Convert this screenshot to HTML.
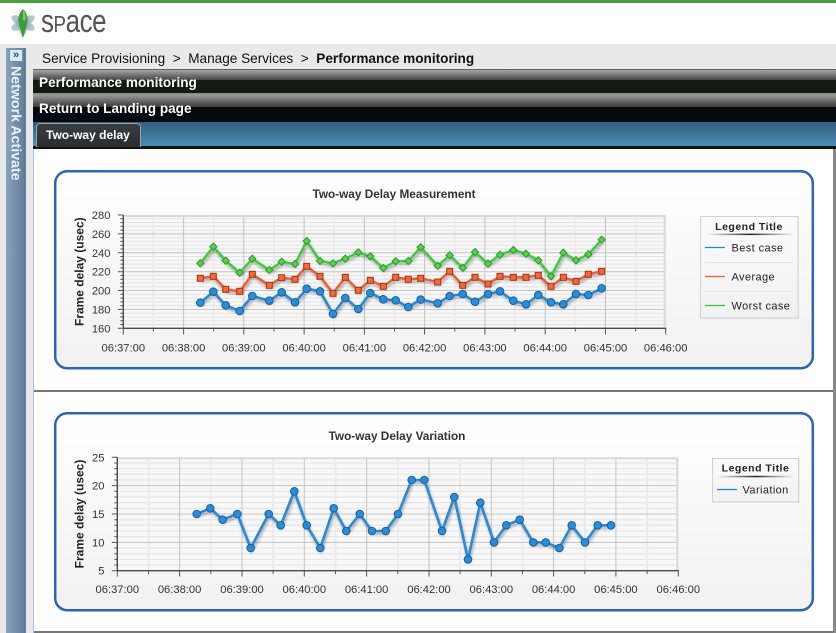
<!DOCTYPE html>
<html><head><meta charset="utf-8"><style>
*{margin:0;padding:0;box-sizing:border-box}
body{width:836px;height:633px;overflow:hidden;background:#e9e9e9;font-family:"Liberation Sans",Arial,sans-serif}
.a{position:absolute}
#root{position:relative;width:836px;height:633px;overflow:hidden;background:#e9e9e9}
.t{position:absolute;white-space:nowrap;line-height:1}
</style></head><body><div id="root">
<div class="a" style="left:0;top:0;width:836px;height:3px;background:#4c9f3f"></div>
<div class="a" style="left:0;top:3px;width:836px;height:41px;background:#fff"></div>
<svg class="a" style="left:6px;top:6px" width="34" height="34" viewBox="0 0 34 34">
<g fill="#a9bcc3" opacity="0.85">
<ellipse cx="17" cy="17" rx="13" ry="5" transform="rotate(30 17 17)"/>
<ellipse cx="17" cy="17" rx="13" ry="5" transform="rotate(-30 17 17)"/>
<ellipse cx="17" cy="17" rx="13" ry="5" transform="rotate(90 17 17)" opacity="0.6"/>
</g>
<g fill="#8aa3ad" opacity="0.5"><circle cx="17" cy="17" r="7"/></g>
<path d="M17 3 C21 7 22.5 12 21 18 C20 23 18.5 28 17 32 C15.5 28 14 23 13 18 C11.5 12 13 7 17 3Z" fill="#3f9c3c"/>
<path d="M17 4 C19.5 7 20 11 19 15 L17 14Z" fill="#9bd08c" opacity="0.8"/>
</svg>
<div class="t" style="left:41px;top:4.6px;font-size:32px;color:#555;transform:scaleX(0.81);transform-origin:0 0;letter-spacing:-0.5px">s<span style="font-size:23px">P</span>ace</div>

<div class="t" style="left:42px;top:52.4px;font-size:13.6px;color:#111">Service Provisioning &nbsp;&gt;&nbsp; Manage Services &nbsp;&gt;&nbsp; <b>Performance monitoring</b></div>

<div class="a" style="left:33px;top:69px;width:803px;height:24px;background:linear-gradient(#606060 0,#606060 1px,#a6a6a6 1px,#454545 11px,#161816 11px,#161816 24px)"></div>
<div class="a" style="left:33px;top:93px;width:803px;height:29px;background:linear-gradient(#8c8c8c 0,#8c8c8c 1.5px,#9e9e9e 1.5px,#383838 14px,#050a10 14px,#050a10 29px)"></div>
<div class="t" style="left:39px;top:75.8px;font-size:13.6px;color:#fff;font-weight:bold">Performance monitoring</div>
<div class="t" style="left:39px;top:101.8px;font-size:13.6px;color:#fff;font-weight:bold">Return to Landing page</div>
<div class="a" style="left:33px;top:122px;width:803px;height:24px;background:linear-gradient(#325d7e,#4b8cb4)"></div>
<div class="a" style="left:33px;top:146px;width:803px;height:3px;background:#121212"></div>
<div class="a" style="left:36px;top:123px;width:105px;height:24px;background:linear-gradient(#3a3c3e,#2b2d2f);border:1px solid #9aa4ad;border-bottom:none;border-radius:4px 4px 0 0"></div>
<div class="t" style="left:46px;top:129.1px;font-size:12px;color:#fff;font-weight:bold">Two-way delay</div>

<div class="a" style="left:33px;top:149px;width:800px;height:484px;background:#fff;border-left:1px solid #a9c1de"></div>
<div class="a" style="left:833px;top:149px;width:3px;height:484px;background:#8a8a8a"></div>
<div class="a" style="left:34px;top:390px;width:799px;height:2px;background:#777"></div>
<div class="a" style="left:34px;top:631px;width:799px;height:2px;background:#777"></div>

<div class="a" style="left:6px;top:48px;width:20px;height:585px;background:linear-gradient(to right,#8ca4be,#5e7b98)"></div>
<div class="a" style="left:9px;top:49px;width:14px;height:13px;background:#dbe8f5;border:1px solid #6f8fb0;color:#1d4a80;font-size:11px;line-height:10px;text-align:center;font-weight:bold">&raquo;</div>
<div class="t" style="left:8.5px;top:66px;writing-mode:vertical-rl;font-size:14.2px;color:#eef3f8;font-weight:bold">Network Activate</div>

<svg class="a" style="left:0;top:0" width="836" height="633" viewBox="0 0 836 633" font-family="Liberation Sans, Arial, sans-serif">
<defs>
<linearGradient id="pg" x1="0" y1="0" x2="0" y2="1"><stop offset="0" stop-color="#ffffff"/><stop offset="1" stop-color="#f1f1f1"/></linearGradient>
<linearGradient id="lg" x1="0" y1="0" x2="0" y2="1"><stop offset="0" stop-color="#fbfbfb"/><stop offset="1" stop-color="#f1f1f1"/></linearGradient>
<linearGradient id="ul" x1="0" y1="0" x2="1" y2="0"><stop offset="0" stop-color="#333" stop-opacity="0"/><stop offset="0.5" stop-color="#222"/><stop offset="1" stop-color="#333" stop-opacity="0"/></linearGradient>
<filter id="sh" x="-5%" y="-30%" width="110%" height="160%"><feGaussianBlur stdDeviation="1.3"/></filter>
<marker id="mc" markerWidth="10" markerHeight="10" refX="5" refY="5" markerUnits="userSpaceOnUse" overflow="visible"><circle cx="5" cy="5" r="3.8" fill="#2a8dd8" stroke="#1a5e9e" stroke-width="1"/></marker>
<marker id="ms" markerWidth="10" markerHeight="10" refX="5" refY="5" markerUnits="userSpaceOnUse" overflow="visible"><rect x="2" y="2" width="6" height="6" fill="#f06a3c" stroke="#a8300f" stroke-width="1"/></marker>
<marker id="md" markerWidth="10" markerHeight="10" refX="5" refY="5" markerUnits="userSpaceOnUse" overflow="visible"><path d="M5 1.4L8.6 5L5 8.6L1.4 5Z" fill="#5ad04c" stroke="#2a982a" stroke-width="1"/></marker>
</defs>

<!-- Panel 1 -->
<rect x="55.2" y="171.2" width="757.6" height="197" rx="12" fill="url(#pg)" stroke="#2b66b1" stroke-width="2.5"/>
<text x="394" y="198" text-anchor="middle" font-size="11.8" font-weight="bold" fill="#333">Two-way Delay Measurement</text>
<rect x="123.3" y="215" width="542.4" height="113.3" fill="#f8f8f8"/>
<path stroke="#e2e2e2" stroke-width="1" fill="none" d="M123.3 218.8H665.7M123.3 222.6H665.7M123.3 226.3H665.7M123.3 230.1H665.7M123.3 237.7H665.7M123.3 241.4H665.7M123.3 245.2H665.7M123.3 249H665.7M123.3 256.5H665.7M123.3 260.3H665.7M123.3 264.1H665.7M123.3 267.9H665.7M123.3 275.4H665.7M123.3 279.2H665.7M123.3 283H665.7M123.3 286.8H665.7M123.3 294.3H665.7M123.3 298.1H665.7M123.3 301.9H665.7M123.3 305.6H665.7M123.3 313.2H665.7M123.3 317H665.7M123.3 320.7H665.7M123.3 324.5H665.7"/>
<path stroke="#ebebeb" stroke-width="2" fill="none" d="M153.4 215V328M213.7 215V328M274 215V328M334.2 215V328M394.5 215V328M454.8 215V328M515 215V328M575.3 215V328M635.6 215V328"/>
<path stroke="#c3c3c3" stroke-width="1" fill="none" d="M123.3 233.9H665.7M123.3 252.8H665.7M123.3 271.7H665.7M123.3 290.5H665.7M123.3 309.4H665.7M183.6 215V328M243.8 215V328M304.1 215V328M364.4 215V328M424.6 215V328M484.9 215V328M545.2 215V328M605.5 215V328"/>
<path stroke="#dadada" stroke-width="2" fill="none" d="M123.3 216H665.7M664.7 215V328"/>
<path stroke="#555" stroke-width="1" fill="none" d="M120.3 218.8H123.3M120.3 222.6H123.3M120.3 226.3H123.3M120.3 230.1H123.3M120.3 237.7H123.3M120.3 241.4H123.3M120.3 245.2H123.3M120.3 249H123.3M120.3 256.5H123.3M120.3 260.3H123.3M120.3 264.1H123.3M120.3 267.9H123.3M120.3 275.4H123.3M120.3 279.2H123.3M120.3 283H123.3M120.3 286.8H123.3M120.3 294.3H123.3M120.3 298.1H123.3M120.3 301.9H123.3M120.3 305.6H123.3M120.3 313.2H123.3M120.3 317H123.3M120.3 320.7H123.3M120.3 324.5H123.3M117.8 215H123.3M117.8 233.9H123.3M117.8 252.8H123.3M117.8 271.7H123.3M117.8 290.5H123.3M117.8 309.4H123.3M117.8 328.3H123.3M123.3 328.3V334.5M183.6 328.3V334.5M243.8 328.3V334.5M304.1 328.3V334.5M364.4 328.3V334.5M424.6 328.3V334.5M484.9 328.3V334.5M545.2 328.3V334.5M605.5 328.3V334.5M665.7 328.3V334.5M153.4 328.3V331.5M213.7 328.3V331.5M274 328.3V331.5M334.2 328.3V331.5M394.5 328.3V331.5M454.8 328.3V331.5M515 328.3V331.5M575.3 328.3V331.5M635.6 328.3V331.5"/>
<path stroke="#4a4a4a" stroke-width="1.4" fill="none" d="M123.3 215V328.3M123.3 328.3H666.2"/>
<g font-size="11.2" fill="#333" text-anchor="end">
<text x="110.5" y="219">280</text><text x="110.5" y="237.9">260</text><text x="110.5" y="256.8">240</text><text x="110.5" y="275.7">220</text><text x="110.5" y="294.5">200</text><text x="110.5" y="313.4">180</text><text x="110.5" y="332.3">160</text>
</g>
<g font-size="11.2" fill="#333" text-anchor="middle">
<text x="123.3" y="351.7">06:37:00</text><text x="183.6" y="351.7">06:38:00</text><text x="243.8" y="351.7">06:39:00</text><text x="304.1" y="351.7">06:40:00</text><text x="364.4" y="351.7">06:41:00</text><text x="424.6" y="351.7">06:42:00</text><text x="484.9" y="351.7">06:43:00</text><text x="545.2" y="351.7">06:44:00</text><text x="605.5" y="351.7">06:45:00</text><text x="665.7" y="351.7">06:46:00</text>
</g>
<text transform="translate(83.6 271.7) rotate(-90)" text-anchor="middle" font-size="12" font-weight="bold" fill="#222">Frame delay (usec)</text>

<g fill="none" stroke="#000" stroke-opacity="0.28" stroke-width="3" filter="url(#sh)" transform="translate(1 2.5)">
<polyline points="200.3,263.3 213.3,246.7 225.7,260.7 239.7,272.7 252.3,258.7 269.3,270 281.7,261.7 295,264 306.7,241 320,261 333,263.3 345.3,258.7 358.3,252.3 370.3,256.3 383.3,268 395.7,261.3 408.3,261 420.7,247.3 437.7,265.7 449.7,255.3 462.7,267.7 475,252 488,263.7 500,254.7 513.3,250 526,253.7 538.3,260.3 551,276.3 563.3,252.7 576,260.3 588.3,254.3 601.7,239.7"/>
<polyline points="200.3,278.3 213.3,276.3 225.7,289.3 239.7,291.3 252.3,274.3 269.3,285.3 281.7,277.7 295,279.3 306.7,266.3 320,276.3 333,293.3 345.3,277.3 358.3,290.3 370.3,280.3 383.3,286.3 395.7,277.3 408.3,279.3 420.7,278.3 437.7,282 449.7,271.3 462.7,285.3 475,277.3 488,284 500,276.3 513.3,277.3 526,277.3 538.3,275.3 551,286.3 563.3,277.3 576,281.3 588.3,274.3 601.7,271.3"/>
<polyline points="200.3,302.7 213.3,291.7 225.7,305.3 239.7,311 252.3,296 269.3,300.7 281.7,292.3 295,302.3 306.7,288.7 320,291.3 333,314 345.3,298 358.3,309 370.3,293 383.3,299.3 395.7,300.3 408.3,307 420.7,299.5 437.7,303.3 449.7,296 462.7,294 475,301.7 488,294 500,291.3 513.3,300.7 526,304.3 538.3,295 551,302.3 563.3,304.3 576,294 588.3,295 601.7,288.3"/>
</g>
<polyline fill="none" stroke="#3dcc3d" stroke-width="2.4" stroke-linejoin="round" marker-start="url(#md)" marker-mid="url(#md)" marker-end="url(#md)" points="200.3,263.3 213.3,246.7 225.7,260.7 239.7,272.7 252.3,258.7 269.3,270 281.7,261.7 295,264 306.7,241 320,261 333,263.3 345.3,258.7 358.3,252.3 370.3,256.3 383.3,268 395.7,261.3 408.3,261 420.7,247.3 437.7,265.7 449.7,255.3 462.7,267.7 475,252 488,263.7 500,254.7 513.3,250 526,253.7 538.3,260.3 551,276.3 563.3,252.7 576,260.3 588.3,254.3 601.7,239.7"/>
<polyline fill="none" stroke="#ee5c33" stroke-width="2.4" stroke-linejoin="round" marker-start="url(#ms)" marker-mid="url(#ms)" marker-end="url(#ms)" points="200.3,278.3 213.3,276.3 225.7,289.3 239.7,291.3 252.3,274.3 269.3,285.3 281.7,277.7 295,279.3 306.7,266.3 320,276.3 333,293.3 345.3,277.3 358.3,290.3 370.3,280.3 383.3,286.3 395.7,277.3 408.3,279.3 420.7,278.3 437.7,282 449.7,271.3 462.7,285.3 475,277.3 488,284 500,276.3 513.3,277.3 526,277.3 538.3,275.3 551,286.3 563.3,277.3 576,281.3 588.3,274.3 601.7,271.3"/>
<polyline fill="none" stroke="#2a8ad6" stroke-width="2.6" stroke-linejoin="round" marker-start="url(#mc)" marker-mid="url(#mc)" marker-end="url(#mc)" points="200.3,302.7 213.3,291.7 225.7,305.3 239.7,311 252.3,296 269.3,300.7 281.7,292.3 295,302.3 306.7,288.7 320,291.3 333,314 345.3,298 358.3,309 370.3,293 383.3,299.3 395.7,300.3 408.3,307 420.7,299.5 437.7,303.3 449.7,296 462.7,294 475,301.7 488,294 500,291.3 513.3,300.7 526,304.3 538.3,295 551,302.3 563.3,304.3 576,294 588.3,295 601.7,288.3"/>

<!-- Legend 1 -->
<rect x="701.5" y="217.5" width="97.5" height="101.5" fill="#e6e6e6"/>
<rect x="700.5" y="216.5" width="97.5" height="101.5" fill="url(#lg)" stroke="#d2d2d2"/>
<text x="749" y="229.8" text-anchor="middle" font-size="10.5" font-weight="bold" letter-spacing="0.5" fill="#222">Legend Title</text>
<rect x="706" y="233.6" width="88" height="1.5" fill="url(#ul)"/>
<line x1="705" y1="247.5" x2="725" y2="247.5" stroke="#1e88e5" stroke-width="1.3"/>
<text x="731.5" y="251.4" font-size="11" letter-spacing="0.4" fill="#222">Best case</text>
<line x1="705" y1="262.5" x2="793" y2="262.5" stroke="#e4e4e4"/>
<line x1="705" y1="276.5" x2="725" y2="276.5" stroke="#e8602f" stroke-width="1.3"/>
<text x="731.5" y="280.4" font-size="11" letter-spacing="0.4" fill="#222">Average</text>
<line x1="705" y1="291.5" x2="793" y2="291.5" stroke="#e4e4e4"/>
<line x1="705" y1="305.5" x2="725" y2="305.5" stroke="#2ecc2e" stroke-width="1.3"/>
<text x="731.5" y="309.4" font-size="11" letter-spacing="0.4" fill="#222">Worst case</text>

<!-- Panel 2 -->
<rect x="55.2" y="413.2" width="757.6" height="197" rx="12" fill="url(#pg)" stroke="#2b66b1" stroke-width="2.5"/>
<text x="397" y="440" text-anchor="middle" font-size="11.8" font-weight="bold" fill="#333">Two-way Delay Variation</text>
<rect x="117.3" y="457.3" width="561" height="113.4" fill="#f8f8f8"/>
<path stroke="#e2e2e2" stroke-width="1" fill="none" d="M117.3 463H678.3M117.3 468.6H678.3M117.3 474.3H678.3M117.3 480H678.3M117.3 491.3H678.3M117.3 497H678.3M117.3 502.7H678.3M117.3 508.3H678.3M117.3 519.7H678.3M117.3 525.3H678.3M117.3 531H678.3M117.3 536.7H678.3M117.3 548H678.3M117.3 553.7H678.3M117.3 559.4H678.3M117.3 565H678.3"/>
<path stroke="#ebebeb" stroke-width="2" fill="none" d="M148.5 457V570M210.8 457V570M273.1 457V570M335.5 457V570M397.8 457V570M460.1 457V570M522.5 457V570M584.8 457V570M647.1 457V570"/>
<path stroke="#c3c3c3" stroke-width="1" fill="none" d="M117.3 485.6H678.3M117.3 514H678.3M117.3 542.4H678.3M179.6 457V570M242 457V570M304.3 457V570M366.6 457V570M429 457V570M491.3 457V570M553.6 457V570M615.9 457V570"/>
<path stroke="#dadada" stroke-width="2" fill="none" d="M117.3 458.3H678.3M677.3 457.3V570"/>
<path stroke="#555" stroke-width="1" fill="none" d="M114.3 463H117.3M114.3 468.6H117.3M114.3 474.3H117.3M114.3 480H117.3M114.3 491.3H117.3M114.3 497H117.3M114.3 502.7H117.3M114.3 508.3H117.3M114.3 519.7H117.3M114.3 525.3H117.3M114.3 531H117.3M114.3 536.7H117.3M114.3 548H117.3M114.3 553.7H117.3M114.3 559.4H117.3M114.3 565H117.3M111.8 457.3H117.3M111.8 485.6H117.3M111.8 514H117.3M111.8 542.4H117.3M111.8 570.7H117.3M117.3 570.7V576.5M179.6 570.7V576.5M242 570.7V576.5M304.3 570.7V576.5M366.6 570.7V576.5M429 570.7V576.5M491.3 570.7V576.5M553.6 570.7V576.5M615.9 570.7V576.5M678.3 570.7V576.5M148.5 570.7V574M210.8 570.7V574M273.1 570.7V574M335.5 570.7V574M397.8 570.7V574M460.1 570.7V574M522.5 570.7V574M584.8 570.7V574M647.1 570.7V574"/>
<path stroke="#4a4a4a" stroke-width="1.4" fill="none" d="M117.3 457.3V570.7M117.3 570.7H678.8"/>
<g font-size="11.2" fill="#333" text-anchor="end">
<text x="104.5" y="461.3">25</text><text x="104.5" y="489.6">20</text><text x="104.5" y="518">15</text><text x="104.5" y="546.4">10</text><text x="104.5" y="574.7">5</text>
</g>
<g font-size="11.2" fill="#333" text-anchor="middle">
<text x="117.3" y="593.2">06:37:00</text><text x="179.6" y="593.2">06:38:00</text><text x="242" y="593.2">06:39:00</text><text x="304.3" y="593.2">06:40:00</text><text x="366.6" y="593.2">06:41:00</text><text x="429" y="593.2">06:42:00</text><text x="491.3" y="593.2">06:43:00</text><text x="553.6" y="593.2">06:44:00</text><text x="615.9" y="593.2">06:45:00</text><text x="678.3" y="593.2">06:46:00</text>
</g>
<text transform="translate(83.6 514) rotate(-90)" text-anchor="middle" font-size="12" font-weight="bold" fill="#222">Frame delay (usec)</text>
<polyline fill="none" stroke="#000" stroke-opacity="0.28" stroke-width="3" filter="url(#sh)" transform="translate(1 2.5)" points="196.7,514 210.3,508.3 222.7,519.7 237.3,514 250.7,548 268.7,514 280.7,525.3 294.3,491.3 306.7,525.3 320.3,548 333.7,508.3 346.3,531 359.7,514 372,531 385.7,531 398,514 411.7,480 424.3,480 442,531 454.3,497 468,559.4 480.3,502.7 494,542.4 506.3,525.3 519.7,519.7 533.3,542.4 545.7,542.4 559.3,548 571.7,525.3 585,542.4 597.7,525.3 611,525.3"/>
<polyline fill="none" stroke="#2a8ad6" stroke-width="2.6" stroke-linejoin="round" marker-start="url(#mc)" marker-mid="url(#mc)" marker-end="url(#mc)" points="196.7,514 210.3,508.3 222.7,519.7 237.3,514 250.7,548 268.7,514 280.7,525.3 294.3,491.3 306.7,525.3 320.3,548 333.7,508.3 346.3,531 359.7,514 372,531 385.7,531 398,514 411.7,480 424.3,480 442,531 454.3,497 468,559.4 480.3,502.7 494,542.4 506.3,525.3 519.7,519.7 533.3,542.4 545.7,542.4 559.3,548 571.7,525.3 585,542.4 597.7,525.3 611,525.3"/>

<!-- Legend 2 -->
<rect x="713.5" y="459.5" width="86" height="43.5" fill="#e6e6e6"/>
<rect x="712.5" y="458.5" width="86" height="43.5" fill="url(#lg)" stroke="#d2d2d2"/>
<text x="755.5" y="471.6" text-anchor="middle" font-size="10.5" font-weight="bold" letter-spacing="0.5" fill="#222">Legend Title</text>
<rect x="717" y="475.8" width="77" height="1.5" fill="url(#ul)"/>
<line x1="717" y1="489.5" x2="737" y2="489.5" stroke="#1e88e5" stroke-width="1.3"/>
<text x="742.5" y="493.4" font-size="11" letter-spacing="0.4" fill="#222">Variation</text>
</svg>
</div></body></html>
